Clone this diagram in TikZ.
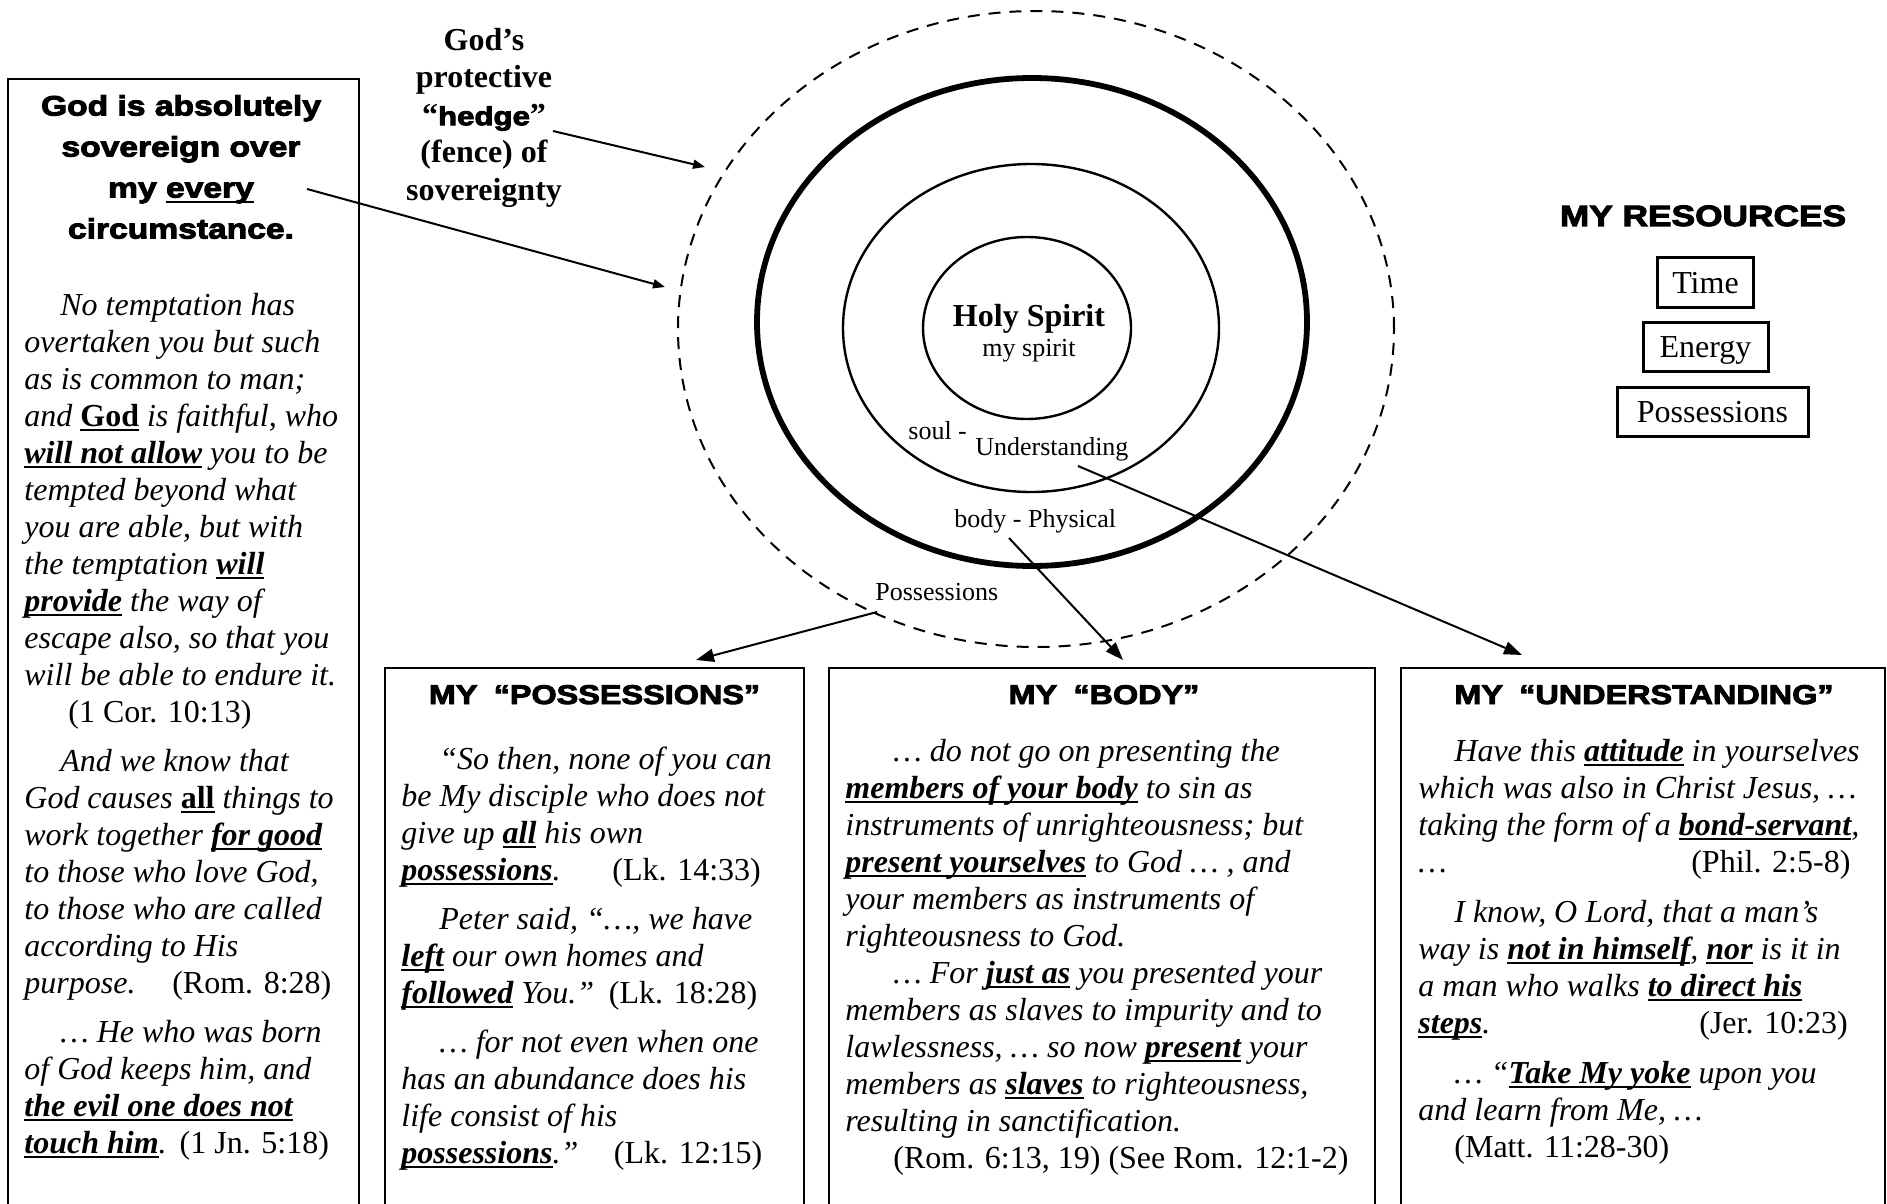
\documentclass[tikz,border=0pt]{standalone}
\usepackage{fontspec}
\setmainfont{Liberation Serif}
\newfontfamily\blk[FakeStretch=1.2,FakeBold=3.5]{Liberation Sans}
\usetikzlibrary{arrows.meta}
\newcommand{\ulx}[2][1.2pt]{\setbox0=\hbox{#2}\rlap{\rule[-2.6pt]{\wd0}{#1}}\box0\relax}
\newcommand{\ub}[1]{\ulx{\textbf{#1}}}
\newcommand{\ubu}[1]{\ulx{\textbf{\upshape #1}}}
\newcommand{\rline}[3]{\makebox[#1][l]{#2\hfill{\upshape #3}}}
\tikzset{
  bigbox/.style={draw, line width=1.3pt, anchor=north west, inner sep=0pt, outer sep=0pt},
  resbox/.style={draw, line width=1.5pt, text height=11.5pt, text depth=1pt, minimum height=24.5pt, inner sep=0pt, font=\fontsize{16pt}{18pt}\selectfont},
  bodytxt/.style={anchor=base west, align=left, inner sep=0pt, font=\fontsize{16pt}{18.5pt}\selectfont\itshape},
  hd/.style={anchor=base, inner sep=0pt, font=\blk\bfseries\fontsize{13.5pt}{16pt}\selectfont},
  lbl/.style={anchor=base west, inner sep=1pt, fill=white, font=\fontsize{13pt}{15pt}\selectfont},
  arr/.style={line width=1pt, -{Triangle[length=9pt,width=6.5pt]}},
  arrs/.style={line width=1pt, -{Triangle[length=6pt,width=4.5pt]}}
}
\begin{document}
\begin{tikzpicture}[x=0.5pt, y=-0.5pt]
\path[fill=white, use as bounding box] (0,0) rectangle (1887,1204);

% circles
\draw[line width=1pt, dash pattern=on 6pt off 4.5pt] (1036,329) ellipse [x radius=179pt, y radius=159pt];
\draw[line width=2.9pt] (1032,322) ellipse [x radius=137.5pt, y radius=122pt];
\draw[line width=1.2pt] (1031,328) ellipse [x radius=94pt, y radius=82pt];
\draw[line width=1.2pt] (1027,328) ellipse [x radius=52pt, y radius=45.5pt];

\node[anchor=base, inner sep=0pt, font=\fontsize{16pt}{18pt}\selectfont\bfseries] (holy) at (1029,326) {Holy Spirit};
\node[anchor=base, inner sep=0pt, font=\fontsize{13pt}{15pt}\selectfont] (myspirit) at (1029,357) {my spirit};
\node[lbl] (soul) at (906,439) {soul -};
\node[lbl] (undlbl) at (973,455) {Understanding};
\node[lbl] (bodylbl) at (952,527) {body - Physical};
\node[lbl] (posslbl) at (873,600) {Possessions};

% God's hedge text (base = last line)
\node[anchor=base, align=center, inner sep=0pt, font=\fontsize{16pt}{18.8pt}\selectfont\bfseries] (god) at (484,200.4)
  {God’s\\protective\\“{\blk\bfseries\fontsize{13pt}{15pt}\selectfont hedge}”\\(fence) of\\sovereignty};

% boxes
\node[bigbox, minimum width=175.5pt, minimum height=571pt] (leftbox) at (8,79) {};
\node[bigbox, minimum width=209.5pt, minimum height=276pt] (possbox) at (385,668) {};
\node[bigbox, minimum width=273pt, minimum height=276pt] (bodybox) at (829,668) {};
\node[bigbox, minimum width=242pt, minimum height=276pt] (undbox) at (1401,668) {};

% left heading (base = last line)
\node[anchor=base, align=center, inner sep=0pt, font=\blk\bfseries\fontsize{14pt}{20.5pt}\selectfont] (lefthead) at (181,238.5)
  {God is absolutely\\sovereign over\\my \ulx[0.8pt]{every}\\circumstance.};

\node[bodytxt] (lefttext) at (24,1153) {%
\hspace*{18pt}No temptation has\\
overtaken you but such\\
as is common to man;\\
and \ubu{God} is faithful, who\\
\ub{will not allow} you to be\\
tempted beyond what\\
you are able, but with\\
the temptation \ub{will}\\
\ub{provide} the way of\\
escape also, so that you\\
will be able to endure it.\\
\hspace*{22pt}{\upshape(1 Cor. 10:13)}\\[6pt]
\hspace*{18pt}And we know that\\
God causes \ubu{all} things to\\
work together \ub{for good}\\
to those who love God,\\
to those who are called\\
according to His\\
\rline{153.5pt}{purpose.}{(Rom. 8:28)}\\[6pt]
\hspace*{18pt}… He who was born\\
of God keeps him, and\\
\ub{the evil one does not}\\
\rline{152.3pt}{\ub{touch him}.}{(1 Jn. 5:18)}};

% headings
\node[hd] (hposs) at (594.5,704) {MY\hspace{0.6em}“POSSESSIONS”};
\node[hd] (hbody) at (1104,704) {MY\hspace{0.6em}“BODY”};
\node[hd] (hund) at (1644,704) {MY\hspace{0.6em}“UNDERSTANDING”};

\node[bodytxt] (posstext) at (401,1163) {%
\hspace*{19pt}“So then, none of you can\\
be My disciple who does not\\
give up \ub{all} his own\\
\rline{179.7pt}{\ub{possessions}.}{(Lk. 14:33)}\\[6pt]
\hspace*{19pt}Peter said, “…, we have\\
\ub{left} our own homes and\\
\rline{178pt}{\ub{followed} You.”}{(Lk. 18:28)}\\[6pt]
\hspace*{19pt}… for not even when one\\
has an abundance does his\\
life consist of his\\
\rline{180.5pt}{\ub{possessions}.”}{(Lk. 12:15)}};

\node[bodytxt] (bodytext) at (845,1168) {%
\hspace*{24pt}… do not go on presenting the\\
\ub{members of your body} to sin as\\
instruments of unrighteousness; but\\
\ub{present yourselves} to God … , and\\
your members as instruments of\\
righteousness to God.\\
\hspace*{24pt}… For \ub{just as} you presented your\\
members as slaves to impurity and to\\
lawlessness, … so now \ub{present} your\\
members as \ub{slaves} to righteousness,\\
resulting in sanctification.\\
\hspace*{24pt}{\upshape(Rom. 6:13, 19) (See Rom. 12:1-2)}};

\node[bodytxt] (undtext) at (1418,1157) {%
\hspace*{18pt}Have this \ub{attitude} in yourselves\\
which was also in Christ Jesus, …\\
taking the form of a \ub{bond-servant},\\
\rline{216pt}{…}{(Phil. 2:5-8)}\\[6.5pt]
\hspace*{18pt}I know, O Lord, that a man’s\\
way is \ub{not in himself}, \ub{nor} is it in\\
a man who walks \ub{to direct his}\\
\rline{214.7pt}{\ub{steps}.}{(Jer. 10:23)}\\[6.5pt]
\hspace*{18pt}… “\ub{Take My yoke} upon you\\
and learn from Me, …\\
\hspace*{18pt}{\upshape(Matt. 11:28-30)}};

% resources
\node[anchor=base, inner sep=0pt, font=\blk\bfseries\fontsize{14.7pt}{17pt}\selectfont] (res) at (1703,226) {MY RESOURCES};
\node[resbox, minimum width=48pt] (time) at (1705.5,282.5) {Time};
\node[resbox, minimum width=62.5pt] (energy) at (1705.5,347) {Energy};
\node[resbox, minimum width=95.5pt] (poss) at (1712.5,411.5) {Possessions};

% arrow tips
\coordinate (tipPoss) at ([shift={(311,-8)}]possbox.north west);
\coordinate (tipBody) at ([shift={(294,-8)}]bodybox.north west);
\coordinate (tipUnd) at ([shift={(121,-13)}]undbox.north west);
\coordinate (tipHedge) at (705,167);
\coordinate (tipLeft) at (665,287);

\draw[arr] ([shift={(4,12)}]posslbl.base west) -- (tipPoss);
\draw[arr] ([shift={(57,11)}]bodylbl.base west) -- (tipBody);
\draw[arr] ([shift={(105,11)}]undlbl.base west) -- (tipUnd);
\draw[arrs] ([shift={(69,-69.4)}]god.base) -- (tipHedge);
\draw[arrs] ([shift={(126,-49.5)}]lefthead.base) -- (tipLeft);
\end{tikzpicture}
\end{document}
